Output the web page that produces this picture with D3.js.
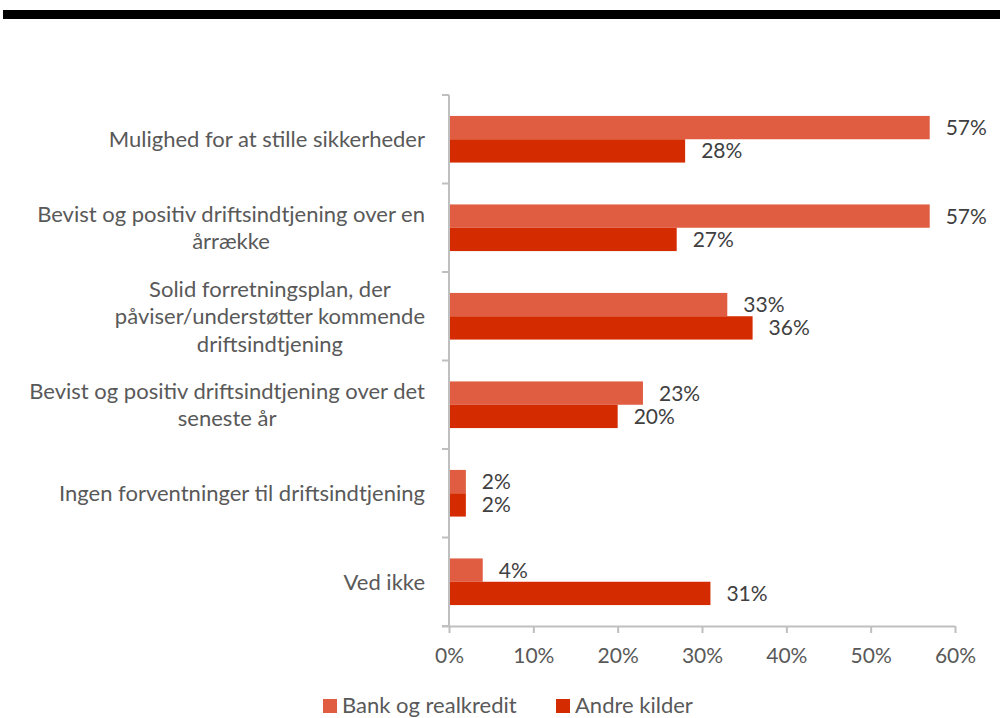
<!DOCTYPE html>
<html>
<head>
<meta charset="utf-8">
<script src="https://cdn.jsdelivr.net/npm/d3@7"></script>
<style>
  html, body { margin: 0; padding: 0; background: #fff; }
  svg { display: block; font-family: Lato, "Open Sans", sans-serif; }
</style>
</head>
<body>
<svg id="chart" width="1000" height="718"></svg>
<script>
const categories = [
  "Mulighed for at stille sikkerheder",
  "Bevist og positiv driftsindtjening over en\nårrække",
  "Solid forretningsplan, der\npåviser/understøtter kommende\ndriftsindtjening",
  "Bevist og positiv driftsindtjening over det\nseneste år",
  "Ingen forventninger til driftsindtjening",
  "Ved ikke"
];
const seriesNames = ["Bank og realkredit", "Andre kilder"];
const bankValues = [0.57, 0.57, 0.33, 0.23, 0.02, 0.04];
const andreValues = [0.28, 0.27, 0.36, 0.20, 0.02, 0.31];
const xTicks = [0, 0.1, 0.2, 0.3, 0.4, 0.5, 0.6];
const colors = ["#E05D41", "#D52B00"];

const svg = d3.select("#chart");
const axisColor = "#BFBFBF";
const plot = { left: 449, right: 955, top: 95, bottom: 626 };

// top black rule
svg.append("rect").attr("x", 3).attr("y", 10).attr("width", 997).attr("height", 9).attr("fill", "#000");

const x = d3.scaleLinear().domain([0, 0.6]).range([plot.left, plot.right]);
const y = d3.scaleBand().domain(categories).range([plot.top, plot.bottom]).paddingInner(0).paddingOuter(0);
const bw = y.bandwidth();
const groupH = bw * 0.527;
const ySub = d3.scaleBand().domain(seriesNames).range([(bw - groupH) / 2, (bw + groupH) / 2]);

const data = categories.map((c, i) => ({ cat: c, vals: [bankValues[i], andreValues[i]] }));

// bars
const g = svg.append("g");
data.forEach(d => {
  d.vals.forEach((v, si) => {
    const yy = y(d.cat) + ySub(seriesNames[si]);
    g.append("rect")
      .attr("x", x(0))
      .attr("y", yy)
      .attr("width", x(v) - x(0))
      .attr("height", ySub.bandwidth())
      .attr("fill", colors[si]);
    g.append("text")
      .attr("x", x(v) + 16)
      .attr("y", yy + ySub.bandwidth() / 2)
      .attr("dy", "0.36em")
      .attr("font-size", 21)
      .attr("fill", "#404040")
      .text(d3.format(".0%")(v));
  });
});

// x axis
const xAxis = d3.axisBottom(x).tickValues(xTicks).tickFormat(d3.format(".0%")).tickSize(7).tickPadding(15);
const xg = svg.append("g").attr("transform", `translate(0,${plot.bottom})`).call(xAxis);
xg.select(".domain").attr("d", `M${plot.left - 7},0.5H${plot.right}`).attr("stroke", axisColor).attr("stroke-width", 2);
xg.selectAll(".tick line").attr("stroke", axisColor).attr("stroke-width", 2);
xg.selectAll(".tick text").attr("font-size", 21).attr("fill", "#595959").attr("font-family", "Lato, sans-serif");

// y axis line and category boundary ticks
const yg = svg.append("g");
yg.append("line").attr("x1", plot.left).attr("x2", plot.left).attr("y1", plot.top).attr("y2", plot.bottom)
  .attr("stroke", axisColor).attr("stroke-width", 2);
const bounds = categories.map(c => y(c)).concat([plot.bottom]);
bounds.forEach(b => {
  yg.append("line").attr("x1", plot.left - 7).attr("x2", plot.left).attr("y1", b).attr("y2", b)
    .attr("stroke", axisColor).attr("stroke-width", 2);
});

// category labels (wrapped, centred block, right aligned)
const labelRight = 425;
const lineH = 27.5;
categories.forEach(c => {
  const lines = c.split("\n");
  const t = svg.append("text").attr("font-size", 22).attr("fill", "#595959").attr("text-anchor", "middle");
  const cy = y(c) + bw / 2;
  const spans = lines.map((ln, i) => t.append("tspan").attr("y", cy + (i - (lines.length - 1) / 2) * lineH).attr("dy", "0.36em").text(ln));
  const maxW = d3.max(spans, s => s.node().getComputedTextLength());
  spans.forEach(s => s.attr("x", labelRight - maxW / 2));
});

// legend
const legend = svg.append("g");
const legendItems = [{ name: seriesNames[0], x: 323 }, { name: seriesNames[1], x: 556 }];
legendItems.forEach((it, i) => {
  legend.append("rect").attr("x", it.x).attr("y", 699).attr("width", 14).attr("height", 14).attr("fill", colors[i]);
  legend.append("text").attr("x", it.x + 19).attr("y", 705).attr("dy", "0.36em")
    .attr("font-size", 22).attr("fill", "#595959").text(it.name);
});
</script>
</body>
</html>
